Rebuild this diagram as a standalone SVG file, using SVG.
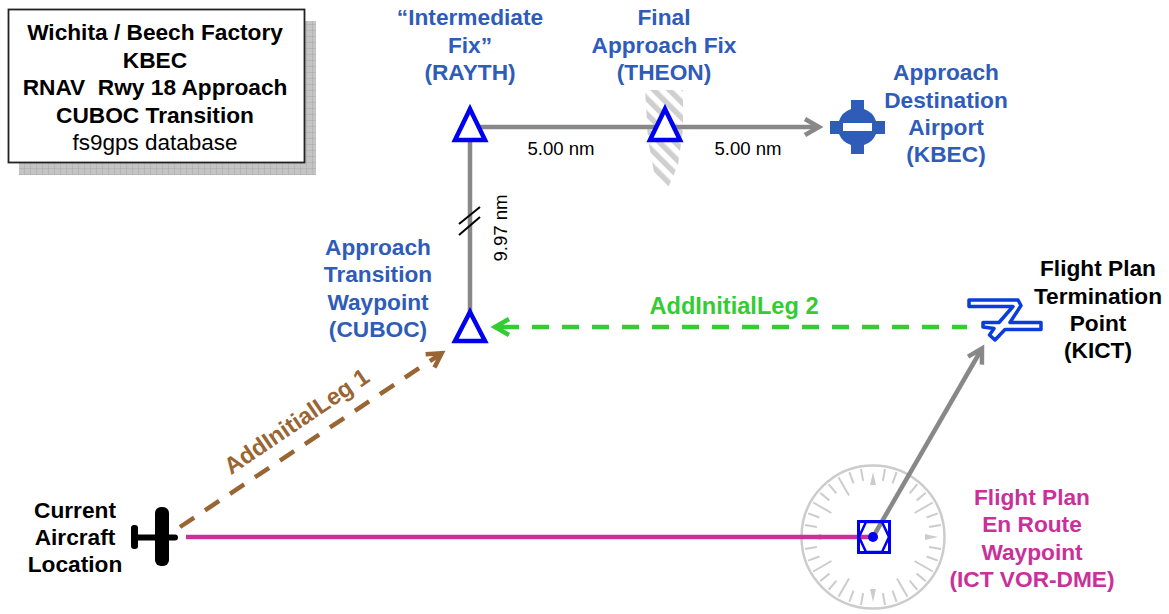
<svg xmlns="http://www.w3.org/2000/svg" width="1169" height="614" viewBox="0 0 1169 614">
<style>
text{font-family:"Liberation Sans",Arial,sans-serif;text-anchor:middle}
.t{font-size:22.7px;font-weight:700}
.b{fill:#2e5cb8}.m{fill:#c9309a}.k{fill:#000}
.d{font-size:18.6px;fill:#000}
.tri{fill:#fff;stroke:#0000f0;stroke-width:4.5}
.tk{stroke:#cccccc;stroke-width:2;fill:none}
</style>
<defs>
<pattern id="grid" width="6" height="6" patternUnits="userSpaceOnUse"><rect width="6" height="6" fill="#c4c4c4"/><path d="M0 0H6M0 0V6" stroke="#9c9c9c" stroke-width="0.7" fill="none"/></pattern>
<pattern id="stripes" width="11" height="11" patternUnits="userSpaceOnUse" patternTransform="rotate(-45)"><rect width="11" height="11" fill="#fff"/><rect width="5.500" height="11" fill="#cfcfcf"/></pattern>
<marker id="ag" markerUnits="userSpaceOnUse" markerWidth="26" markerHeight="24" refX="18" refY="12" orient="auto"><path d="M4 4L18 12L4 20" fill="none" stroke="#888" stroke-width="4.500"/></marker>
<marker id="an" markerUnits="userSpaceOnUse" markerWidth="26" markerHeight="24" refX="18" refY="12" orient="auto"><path d="M4 4L18 12L4 20" fill="none" stroke="#33cc33" stroke-width="4.500"/></marker>
<marker id="ab" markerUnits="userSpaceOnUse" markerWidth="26" markerHeight="24" refX="18" refY="12" orient="auto"><path d="M4 4L18 12L4 20" fill="none" stroke="#996633" stroke-width="4.500"/></marker>
<line id="s" x1="873" y1="468" x2="873" y2="480" class="tk"/>
<line id="l" x1="873" y1="468" x2="873" y2="489" class="tk"/>
<path id="p" d="M873 472L876 485H870Z" fill="#cccccc"/>
</defs>

<g id="title">
<rect x="19" y="21" width="297" height="154" fill="url(#grid)"/>
<rect x="8.500" y="9.500" width="296" height="153" fill="#fff" stroke="#222" stroke-width="1.800"/>
<text class="t k" x="155" y="40">Wichita / Beech Factory</text>
<text class="t k" x="155" y="67.500">KBEC</text>
<text class="t k" x="155" y="95" xml:space="preserve">RNAV  Rwy 18 Approach</text>
<text class="t k" x="155" y="122.500">CUBOC Transition</text>
<text x="155" y="150" font-size="22.500" fill="#000">fs9gps database</text>
</g>

<g id="compass">
<circle cx="873" cy="537" r="71.500" fill="#fff" stroke="#cccccc" stroke-width="2.500"/>
<use href="#p"/>
<use href="#s" transform="rotate(10 873 537)"/><use href="#s" transform="rotate(20 873 537)"/><use href="#l" transform="rotate(30 873 537)"/><use href="#s" transform="rotate(40 873 537)"/><use href="#s" transform="rotate(50 873 537)"/><use href="#l" transform="rotate(60 873 537)"/><use href="#s" transform="rotate(70 873 537)"/><use href="#s" transform="rotate(80 873 537)"/><use href="#p" transform="rotate(90 873 537)"/>
<use href="#s" transform="rotate(100 873 537)"/><use href="#s" transform="rotate(110 873 537)"/><use href="#l" transform="rotate(120 873 537)"/><use href="#s" transform="rotate(130 873 537)"/><use href="#s" transform="rotate(140 873 537)"/><use href="#l" transform="rotate(150 873 537)"/><use href="#s" transform="rotate(160 873 537)"/><use href="#s" transform="rotate(170 873 537)"/><use href="#p" transform="rotate(180 873 537)"/>
<use href="#s" transform="rotate(190 873 537)"/><use href="#s" transform="rotate(200 873 537)"/><use href="#l" transform="rotate(210 873 537)"/><use href="#s" transform="rotate(220 873 537)"/><use href="#s" transform="rotate(230 873 537)"/><use href="#l" transform="rotate(240 873 537)"/><use href="#s" transform="rotate(250 873 537)"/><use href="#s" transform="rotate(260 873 537)"/><use href="#p" transform="rotate(270 873 537)"/>
<use href="#s" transform="rotate(280 873 537)"/><use href="#s" transform="rotate(290 873 537)"/><use href="#l" transform="rotate(300 873 537)"/><use href="#s" transform="rotate(310 873 537)"/><use href="#s" transform="rotate(320 873 537)"/><use href="#l" transform="rotate(330 873 537)"/><use href="#s" transform="rotate(340 873 537)"/><use href="#s" transform="rotate(350 873 537)"/>
</g>

<path id="faf-hatch" d="M645 90H683V130L678 165L667 190L654 172L648 140Z" fill="url(#stripes)"/>

<g id="connectors" fill="none">
<path d="M470 127H819" stroke="#888" stroke-width="4.500" marker-end="url(#ag)"/>
<path d="M470 127V320" stroke="#888" stroke-width="4.500"/>
<path d="M459 224L480 207M459 235L480 217" stroke="#000" stroke-width="2"/>
<path d="M967 327H520" stroke="#33cc33" stroke-width="4.500" stroke-dasharray="17 13" stroke-dashoffset="2"/>
<path d="M519 327H495" stroke="#33cc33" stroke-width="4.500" marker-end="url(#an)"/>
<path d="M180 527L441.700 353.200" stroke="#996633" stroke-width="4.500" stroke-dasharray="17 13" marker-end="url(#ab)"/>
<path d="M186 537H873" stroke="#c9309a" stroke-width="4.500"/>
<path d="M873 537L982 348.500" stroke="#888" stroke-width="4.500" marker-end="url(#ag)"/>
</g>

<g id="rayth"><path class="tri" d="M470 109L485 140H455Z"/>
<text class="t b" x="470" y="25">“Intermediate</text><text class="t b" x="470" y="52.500">Fix”</text><text class="t b" x="470" y="80">(RAYTH)</text></g>
<g id="theon"><path class="tri" d="M665 109L680 140H650Z"/>
<text class="t b" x="664" y="25">Final</text><text class="t b" x="664" y="52.500">Approach Fix</text><text class="t b" x="664" y="80">(THEON)</text></g>
<g id="cuboc"><path class="tri" d="M470 312L485 341H455Z"/>
<text class="t b" x="378" y="255">Approach</text><text class="t b" x="378" y="282">Transition</text><text class="t b" x="378" y="310">Waypoint</text><text class="t b" x="378" y="337">(CUBOC)</text></g>
<g id="kbec">
<path d="M851 100H864V109A19 19 0 0 1 876 121H885V134H876A19 19 0 0 1 864 145V154H851V145A19 19 0 0 1 839 134H830V121H839A19 19 0 0 1 851 109Z" fill="#2e5cb8"/>
<rect x="843" y="123" width="29" height="8" fill="#fff"/>
<text class="t b" x="946" y="80">Approach</text><text class="t b" x="946" y="108">Destination</text><text class="t b" x="946" y="135">Airport</text><text class="t b" x="946" y="162">(KBEC)</text></g>
<g id="kict">
<path d="M969 300H1018L1021 305.500L1010 322.500H1041V329.500H1005L995 340L989.500 335L994 328.500L983 327V322.500H999L1013 306.500H969Z" fill="#fff" stroke="#0a3ddb" stroke-width="3.500" stroke-linejoin="round"/>
<text class="t k" x="1098" y="276">Flight Plan</text><text class="t k" x="1098" y="304">Termination</text><text class="t k" x="1098" y="331">Point</text><text class="t k" x="1098" y="358">(KICT)</text></g>
<g id="ict">
<rect x="858.500" y="521.500" width="31" height="31" fill="none" stroke="#0000f0" stroke-width="3"/>
<path d="M866 522L859 537L866 552H882L889 537L882 522Z" fill="none" stroke="#0000f0" stroke-width="2.500"/>
<circle cx="873" cy="537" r="5" fill="#0000f0"/>
<text class="t m" x="1032" y="505">Flight Plan</text><text class="t m" x="1032" y="532">En Route</text><text class="t m" x="1032" y="560">Waypoint</text><text class="t m" x="1032" y="587">(ICT VOR-DME)</text></g>
<g id="aircraft">
<rect x="155" y="507" width="14" height="59" rx="6" fill="#000"/>
<rect x="131" y="525" width="7" height="24" rx="3" fill="#000"/>
<rect x="133" y="534.500" width="45" height="6" rx="3" fill="#000"/>
<text class="t k" x="75" y="518">Current</text><text class="t k" x="75" y="545">Aircraft</text><text class="t k" x="75" y="572">Location</text></g>

<g id="labels">
<text class="d" x="561" y="155">5.00 nm</text>
<text class="d" x="748" y="155">5.00 nm</text>
<text class="d" transform="translate(507 228) rotate(-90)">9.97 nm</text>
<text font-size="23.600" font-weight="700" fill="#33cc33" x="734" y="314">AddInitialLeg 2</text>
<text font-size="23.600" font-weight="700" fill="#996633" transform="translate(301 428) rotate(-34)">AddInitialLeg 1</text>
</g>
</svg>
